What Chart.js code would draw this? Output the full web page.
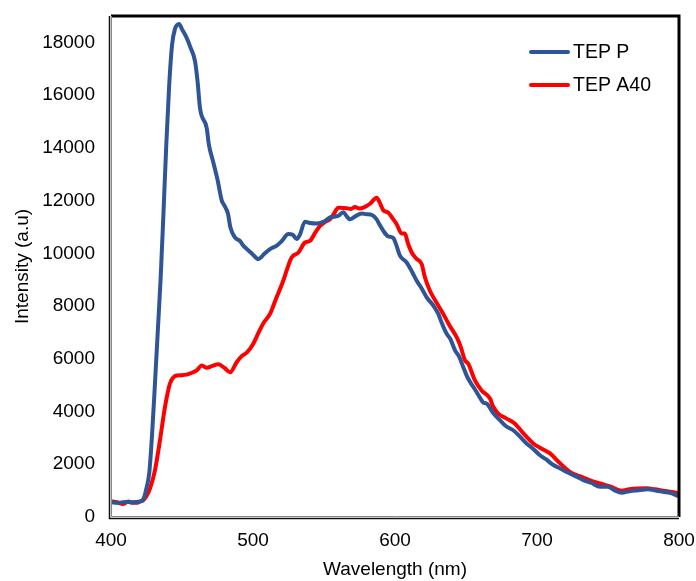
<!DOCTYPE html>
<html>
<head>
<meta charset="utf-8">
<script src="https://cdn.jsdelivr.net/npm/chart.js@4.4.1/dist/chart.umd.min.js"></script>
<style>
html,body{margin:0;padding:0;background:#fff;}
#wrap{width:696px;height:581px;}
</style>
</head>
<body>
<div id="wrap"><canvas id="c" width="696" height="581"></canvas></div>
<script>
// ---- Data ----
const seriesNames = ["TEP P", "TEP A40"];
const xTickLabels = [400, 500, 600, 700, 800];
const yTickLabels = [0, 2000, 4000, 6000, 8000, 10000, 12000, 14000, 16000, 18000];

const tepPWavelength = [400,405,410,415,420,423,425,427,429,431,433,435,437,439,441,443,445,447.9,450,453.3,456,459.2,461,462.7,467.4,469,471.8,475,478,480,482.4,484,487.3,490.8,493,497,500,503.7,508,512,516.7,520,524.9,528,530.8,533,536.6,540,544.9,550,554.2,560,563.6,566,568.3,572,576.5,580,583.6,587.1,589,591.8,595,598.8,601,603.5,608.2,612,615.3,619,622.3,627,630.5,633,636.4,639,642.3,645,648.1,651,655.2,659,662,664.6,669,673.9,678,683.3,688,692.7,697,702.1,706,711.5,716,720.9,727,732.6,738,744.4,750,755,759.6,765,772.5,778,784.3,790,795,799.5];
const tepPIntensity = [560,540,570,560,580,700,1100,1700,3200,5100,7100,9100,11600,14200,16400,17900,18500,18700,18500,18170,17800,17280,16500,15500,14750,14100,13500,12800,12000,11800,11500,11000,10600,10470,10300,10100,9950,9780,9980,10160,10290,10450,10730,10700,10540,10700,11200,11150,11130,11200,11360,11420,11560,11400,11290,11400,11510,11480,11460,11290,11100,10850,10650,10580,10300,9910,9650,9300,8960,8650,8330,8020,7700,7350,6950,6750,6320,6100,5680,5300,4930,4600,4350,4300,3950,3670,3450,3290,3050,2790,2600,2340,2200,1970,1850,1710,1550,1400,1300,1150,1150,1000,920,980,1020,1050,995,950,900,790];

const tepA40Wavelength = [400,404,408.7,412.2,415,418,420,422.7,425,427.5,431,434.5,438,441.5,444,446.3,450,453.3,457,460.4,463.9,467.4,471,475.6,480,483.8,488.5,492,495.6,500.2,504,507.3,512,516,521.3,524,527.2,532,536.6,540,544,547.2,551,554.2,557,560,563,566,569,571.8,575,577.7,582.4,587.1,589,591.8,595.3,598,601.2,604.7,607,609,611.8,615,618.8,621,624.6,629,634,638,643.4,646,649.3,651.6,656.3,661,666.9,669,672.7,678,684.5,690,697.4,703,709.2,716,723.2,730,737,744.4,752,759.6,765,771,777.3,783,789,795,799.5];
const tepA40Intensity = [600,560,490,590,540,540,580,640,800,1090,1780,2910,4170,5060,5300,5370,5380,5400,5470,5560,5750,5660,5720,5790,5650,5490,5870,6100,6230,6570,7000,7350,7700,8250,8960,9400,9840,10030,10410,10470,10800,11040,11200,11290,11500,11730,11720,11710,11680,11760,11700,11730,11880,12110,11950,11630,11540,11350,11100,10750,10750,10400,10030,9800,9590,9100,8580,8150,7700,7300,6820,6500,5940,5810,5180,4800,4490,4200,3920,3750,3540,3200,2790,2600,2410,2050,1710,1550,1400,1270,1150,995,1050,1080,1090,1050,995,950,900];

const seriesColors = ["#2F5597", "#FF0000"];

function toPoints(xs, ys){ return xs.map((x,i)=>({x:x, y:ys[i]})); }

const FONT = "'Liberation Sans', Arial, sans-serif";

function zeroPadding(scale){
  scale.paddingTop = 0; scale.paddingBottom = 0;
  scale.paddingLeft = 0; scale.paddingRight = 0;
}

const framePlugin = {
  id: 'frame',
  afterDatasetsDraw(chart){
    const {ctx, chartArea:a} = chart;
    ctx.save();
    ctx.strokeStyle = '#000';
    ctx.lineWidth = 3;
    ctx.beginPath();
    ctx.moveTo(a.left, a.top);
    ctx.lineTo(a.right, a.top);
    ctx.lineTo(a.right, a.bottom);
    ctx.stroke();
    ctx.lineWidth = 1.5;
    ctx.strokeStyle = '#111';
    ctx.beginPath();
    ctx.moveTo(a.left-1.5, a.top);
    ctx.lineTo(a.left-1.5, a.bottom+1.5);
    ctx.lineTo(a.right, a.bottom+1.5);
    ctx.stroke();
    ctx.strokeStyle = '#888';
    ctx.lineWidth = 1;
    ctx.beginPath();
    ctx.moveTo(a.left+0.5, a.top);
    ctx.lineTo(a.left+0.5, a.bottom-0.5);
    ctx.lineTo(a.right, a.bottom-0.5);
    ctx.stroke();
    ctx.restore();
  }
};

const legendPlugin = {
  id: 'customLegend',
  afterDraw(chart){
    const {ctx} = chart;
    ctx.save();
    const x0 = 531, x1 = 568, tx = 573;
    const ys = [52, 85];
    chart.data.datasets.forEach((ds, i) => {
      ctx.strokeStyle = ds.borderColor;
      ctx.lineWidth = 4;
      ctx.lineCap = 'round';
      ctx.beginPath();
      ctx.moveTo(x0, ys[i]);
      ctx.lineTo(x1, ys[i]);
      ctx.stroke();
      ctx.fillStyle = '#000';
      ctx.font = "19.5px " + FONT;
      ctx.textAlign = 'left';
      ctx.textBaseline = 'middle';
      ctx.fillText(ds.label, tx, ys[i] + 1);
    });
    ctx.restore();
  }
};

new Chart(document.getElementById('c'), {
  type: 'line',
  data: {
    datasets: [
      { label: seriesNames[0], data: toPoints(tepPWavelength, tepPIntensity), borderColor: seriesColors[0], backgroundColor: seriesColors[0], borderWidth: 4, pointRadius: 0, cubicInterpolationMode: 'monotone', fill: false },
      { label: seriesNames[1], data: toPoints(tepA40Wavelength, tepA40Intensity), borderColor: seriesColors[1], backgroundColor: seriesColors[1], borderWidth: 4, pointRadius: 0, cubicInterpolationMode: 'monotone', fill: false }
    ]
  },
  options: {
    responsive: false,
    animation: false,
    layout: { padding: { left: 0, right: 17, top: 16, bottom: 0 } },
    plugins: { legend: { display: false }, tooltip: { enabled: false } },
    scales: {
      x: {
        type: 'linear',
        min: 400, max: 800,
        afterBuildTicks(scale){ scale.ticks = xTickLabels.map(v => ({value: v})); },
        afterFit(scale){ scale.height = 64; zeroPadding(scale); },
        grid: { display: false, drawTicks: false },
        border: { display: false },
        ticks: { color: '#000', font: { family: FONT, size: 19 }, padding: 12, maxRotation: 0, autoSkip: false, callback: v => String(v) },
        title: { display: true, text: 'Wavelength (nm)', color: '#000', font: { family: FONT, size: 19 }, padding: { top: 0, bottom: 0 } }
      },
      y: {
        type: 'linear',
        min: 0, max: 19000,
        afterBuildTicks(scale){ scale.ticks = yTickLabels.map(v => ({value: v})); },
        afterFit(scale){ scale.width = 111; zeroPadding(scale); },
        grid: { display: false, drawTicks: false },
        border: { display: false },
        ticks: { color: '#000', font: { family: FONT, size: 19 }, padding: 16, autoSkip: false, callback: v => String(v) },
        title: { display: true, text: 'Intensity (a.u)', color: '#000', font: { family: FONT, size: 19 }, padding: { top: 11, bottom: 0 } }
      }
    }
  },
  plugins: [framePlugin, legendPlugin]
});
</script>
</body>
</html>
